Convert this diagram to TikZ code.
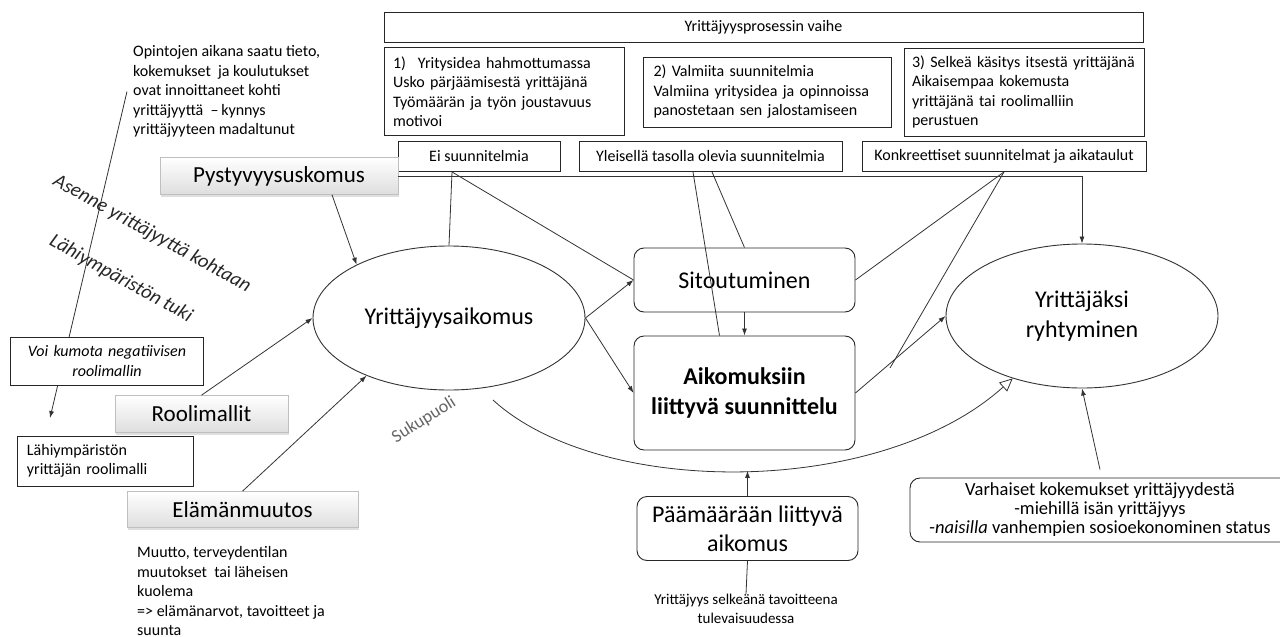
\documentclass[tikz,border=0pt]{standalone}
\usepackage{fontspec}
\setmainfont{Carlito}
\usetikzlibrary{shapes.geometric,arrows.meta,shadows,calc}
\begin{document}
\hyphenpenalty=10000
\begin{tikzpicture}[x=1pt,y=-1pt,
  line/.style={draw=black!80, line width=0.8pt},
  arr/.style={line, -{Latex[length=7pt,width=5pt]}},
  openarr/.style={line, -{Triangle[open,length=13pt,width=12pt]}},
  tbox/.style={draw=black!85, line width=0.9pt, fill=white, inner sep=0pt, font=\fontsize{16}{19.5}\selectfont},
  rbox/.style={draw=black!85, line width=0.9pt, fill=white, rounded corners=10pt, inner sep=0pt, font=\fontsize{24}{30}\selectfont, align=center},
  gbox/.style={draw=black!25, line width=0.6pt, top color=white, bottom color=black!13, inner sep=0pt, font=\fontsize{23}{28}\selectfont, drop shadow={shadow xshift=1pt, shadow yshift=-2pt, opacity=0.25}},
  ell/.style={ellipse, draw=black!80, line width=0.9pt, inner sep=0pt, fill=white, font=\fontsize{24}{30}\selectfont, align=center},
  small/.style={font=\fontsize{16}{19.5}\selectfont, inner sep=0pt, align=left},
  rot/.style={font=\fontsize{20}{24}\selectfont\itshape, text=black!85, inner sep=0pt}
]
\useasboundingbox (0,0) rectangle (1280,637);

% top boxes
\node[tbox, minimum width=759, minimum height=30] (phase) at (763.5,27.5) {Yrittäjyysprosessin vaihe};
\node[tbox, minimum width=240, minimum height=88, text width=222, align=left] (b1) at (504,91.5)
  {1)\hspace{12pt}Yritysidea hahmottumassa\\Usko pärjäämisestä yrittäjänä\\Työmäärän ja työn joustavuus\\motivoi};
\node[tbox, minimum width=248, minimum height=70, text width=228, align=left] (b2) at (767.5,92)
  {2) Valmiita suunnitelmia\\Valmiina yritysidea ja opinnoissa\\panostetaan sen jalostamiseen};
\node[tbox, minimum width=240, minimum height=88, text width=224, align=left] (b3) at (1024,92)
  {3) Selkeä käsitys itsestä yrittäjänä\\Aikaisempaa kokemusta\\yrittäjänä tai roolimalliin\\perustuen};
\node[tbox, minimum width=162, minimum height=30] (ei) at (479,156.5) {Ei suunnitelmia};
\node[tbox, minimum width=263, minimum height=30] (yl) at (710.5,156.5) {Yleisellä tasolla olevia suunnitelmia};
\node[tbox, minimum width=284, minimum height=30] (kon) at (1004,156.5) {Konkreettiset suunnitelmat ja aikataulut};

% left texts
\node[small, anchor=west] (opi) at (133,91.5) {Opintojen aikana saatu tieto,\\kokemukset\ \ ja koulutukset\\ovat innoittaneet kohti\\yrittäjyyttä\ \ –\,kynnys\\yrittäjyyteen madaltunut};
\coordinate (lahT) at (50,418);
\draw[arr] ([xshift=-6pt]opi.west) -- (lahT);

\node[rot, rotate=-29] (asenne) at (152,234) {Asenne yrittäjyyttä kohtaan};
\node[rot, rotate=-29] (tuki) at (121,279) {Lähiympäristön tuki};

\node[tbox, minimum width=193, minimum height=48, text width=180, align=center, font=\fontsize{16}{19.5}\selectfont\itshape] (voi) at (107,361) {Voi kumota negatiivisen\\roolimallin};
\node[tbox, minimum width=176, minimum height=50, text width=156, align=left] (lah) at (105,461) {Lähiympäristön\\yrittäjän roolimalli};

\node[small, anchor=west] (muutto) at (137,591) {Muutto, terveydentilan\\muutokset\ \ tai läheisen\\kuolema\\=> elämänarvot, tavoitteet ja\\suunta};

% gradient boxes
\node[gbox, minimum width=238, minimum height=37] (pyst) at (279,176) {Pystyvyysuskomus};
\node[gbox, minimum width=173, minimum height=37] (rool) at (201.5,414) {Roolimallit};
\node[gbox, minimum width=231, minimum height=36] (ela) at (242.5,509.5) {Elämänmuutos};

% main nodes
\node[ell, minimum width=272, minimum height=144] (ya) at (449,318) {Yrittäjyysaikomus};
\node[ell, minimum width=272, minimum height=144] (yr) at (1082,316) {Yrittäjäksi\\ryhtyminen};
\node[rbox, minimum width=221, minimum height=64] (sit) at (744.5,280) {Sitoutuminen};
\node[rbox, minimum width=221, minimum height=114, font=\fontsize{24}{30}\selectfont\bfseries] (aik) at (744.5,393) {Aikomuksiin\\liittyvä suunnittelu};
\node[rbox, minimum width=221, minimum height=64, font=\fontsize{24}{29}\selectfont] (paa) at (747.5,528.5) {Päämäärään liittyvä\\aikomus};
\node[inner sep=0pt, align=center, font=\fontsize{15}{19}\selectfont] (goal) at (746,609) {Yrittäjyys selkeänä tavoitteena\\tulevaisuudessa};
\node[rbox, minimum width=380, minimum height=64, font=\fontsize{18.5}{19}\selectfont] (var) at (1100,510)
  {Varhaiset kokemukset yrittäjyydestä\\-miehillä isän yrittäjyys\\-\textit{naisilla} vanhempien sosioekonominen status};

\node[font=\fontsize{18}{22}\selectfont, text=black!60, inner sep=0pt, rotate=32] (suku) at (424,420) {Sukupuoli};

% connectors
\draw[arr] (pyst.east) -| (yr.north);
\draw[arr] ([xshift=53pt]pyst.south) -- (ya.150);
\draw[arr] (rool.north) -- (ya.west);
\draw[arr] (ela.north) -- (ya.215);

\draw[line] ([xshift=-27pt]ei.south) -- (ya.north);
\draw[line] ([xshift=-27pt]ei.south) -- (sit.west);
\draw[arr] (ya.east) -- (sit.west);
\draw[arr] (ya.east) -- (aik.west);

\draw[line] ([xshift=-17.5pt]yl.south) -- ([xshift=-25pt]aik.north);
\draw[line] ([xshift=1.5pt]yl.south) -- (sit.north);
\draw[arr] (sit.south) -- (aik.north);

\coordinate (kend) at (890,368);
\draw[line] (kon.south) -- (sit.east);
\draw[line] (kon.south) -- (kend);
\draw[arr] (aik.east) -- (yr.west);

\coordinate (sukS) at (493,400);
\draw[openarr] (sukS) .. controls (600,498) and (880,498) .. (yr.222) coordinate[pos=0.5] (cm);
\draw[arr] (paa.north) -- (paa.north |- cm);
\draw[line] (goal.north) -- (paa.south);
\draw[arr] ([yshift=8pt]var.north) -- (yr.south);
\end{tikzpicture}
\end{document}
